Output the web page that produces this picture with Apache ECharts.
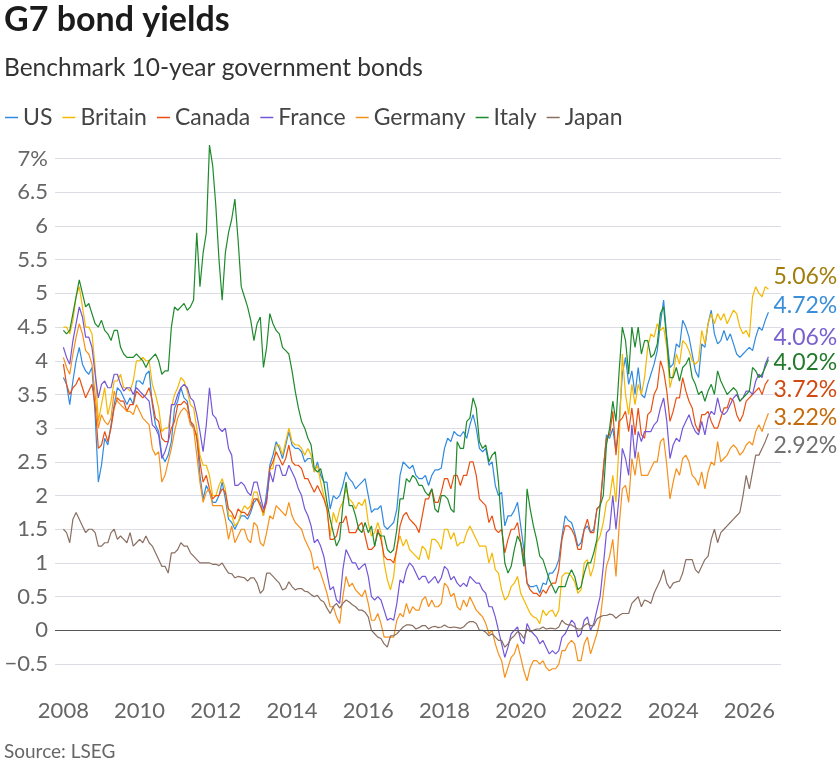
<!DOCTYPE html>
<html>
<head>
<meta charset="utf-8">
<title>G7 bond yields</title>
<script src="https://cdn.jsdelivr.net/npm/echarts@6/dist/echarts.min.js"></script>
<style>
  html, body { margin: 0; padding: 0; background: #fff; }
  #chart { width: 840px; height: 761px; }
</style>
</head>
<body>
<div id="chart"></div>
<script>
// monthly readings, Jan 2008 .. Jul 2026
var us = [
  3.75, 3.65, 3.35, 3.7, 4.0, 4.2, 3.95, 3.85, 3.8, 3.9, 3.2, 2.2,
  2.45, 2.85, 2.75, 3.05, 3.35, 3.6, 3.55, 3.45, 3.35, 3.45, 3.35, 3.7,
  3.7, 3.65, 3.8, 3.85, 3.35, 3.05, 2.95, 2.6, 2.5, 2.6, 2.8, 3.3,
  3.4, 3.6, 3.45, 3.4, 3.1, 3.0, 2.9, 2.3, 1.95, 2.15, 2.05, 1.9,
  1.9, 2.0, 2.2, 1.95, 1.65, 1.6, 1.5, 1.6, 1.7, 1.7, 1.65, 1.75,
  1.9, 1.95, 1.9, 1.7, 2.05, 2.45, 2.6, 2.8, 2.7, 2.55, 2.75, 2.95,
  2.75, 2.7, 2.7, 2.65, 2.5, 2.55, 2.55, 2.35, 2.5, 2.3, 2.2, 2.2,
  1.8, 2.0, 1.95, 2.0, 2.15, 2.35, 2.25, 2.2, 2.1, 2.15, 2.2, 2.25,
  2.0, 1.75, 1.8, 1.8, 1.85, 1.55, 1.5, 1.55, 1.6, 1.8, 2.3, 2.5,
  2.45, 2.4, 2.45, 2.3, 2.25, 2.25, 2.3, 2.15, 2.3, 2.38, 2.38, 2.41,
  2.7, 2.85, 2.8, 2.95, 2.9, 2.88, 2.95, 2.85, 3.05, 3.2, 3.0, 2.7,
  2.65, 2.7, 2.45, 2.5, 2.15, 2.0, 2.05, 1.55, 1.7, 1.7, 1.78, 1.9,
  1.55, 1.2, 0.7, 0.65, 0.65, 0.67, 0.55, 0.7, 0.68, 0.85, 0.85, 0.92,
  1.05, 1.4, 1.7, 1.63, 1.6, 1.45, 1.25, 1.3, 1.5, 1.55, 1.45, 1.5,
  1.8, 1.85, 2.35, 2.9, 2.85, 3.0, 2.65, 3.1, 3.8, 4.05, 3.65, 3.85,
  3.5, 3.9, 3.5, 3.45, 3.65, 3.8, 3.95, 4.15, 4.55, 4.9, 4.35, 3.9,
  3.95, 4.25, 4.2, 4.6, 4.5, 4.35, 4.1, 3.85, 3.75, 4.25, 4.2, 4.55,
  4.75, 4.4, 4.25, 4.3, 4.45, 4.3, 4.4, 4.25, 4.1, 4.05, 4.1, 4.15,
  4.2, 4.15, 4.35, 4.5, 4.45, 4.6, 4.72
];
var britain = [
  4.5, 4.5, 4.4, 4.6, 4.95, 5.1, 4.8, 4.5, 4.5, 4.4, 3.9, 3.1,
  3.35, 3.6, 3.2, 3.4, 3.7, 3.7, 3.8, 3.6, 3.6, 3.55, 3.7, 4.0,
  4.0, 4.05, 4.0, 4.0, 3.65, 3.5, 3.3, 2.95, 3.0, 3.0, 3.3, 3.5,
  3.6, 3.75, 3.7, 3.55, 3.35, 3.3, 3.0, 2.6, 2.45, 2.45, 2.3, 2.0,
  2.0, 2.15, 2.25, 2.1, 1.7, 1.7, 1.55, 1.6, 1.75, 1.85, 1.8, 1.85,
  2.05, 2.05, 1.85, 1.7, 1.95, 2.4, 2.4, 2.75, 2.75, 2.6, 2.8, 3.0,
  2.8, 2.75, 2.75, 2.7, 2.6, 2.7, 2.6, 2.35, 2.45, 2.2, 2.0, 1.8,
  1.4, 1.75, 1.6, 1.8, 1.9, 2.1, 1.95, 1.9, 1.8, 1.9, 1.85, 1.95,
  1.6, 1.4, 1.45, 1.6, 1.45, 1.0, 0.75, 0.6, 0.8, 1.25, 1.4, 1.25,
  1.35, 1.2, 1.15, 1.1, 1.05, 1.25, 1.2, 1.05, 1.35, 1.35, 1.3, 1.2,
  1.5, 1.5, 1.35, 1.45, 1.25, 1.3, 1.3, 1.45, 1.55, 1.45, 1.35, 1.25,
  1.25, 1.25, 1.0, 1.15, 0.9, 0.85, 0.6, 0.45, 0.5, 0.65, 0.7, 0.8,
  0.55, 0.45, 0.35, 0.25, 0.2, 0.18, 0.1, 0.3, 0.22, 0.28, 0.3, 0.2,
  0.3, 0.8, 0.85, 0.85, 0.8, 0.72, 0.55, 0.6, 1.0, 1.05, 0.8, 0.95,
  1.3, 1.4, 1.6, 1.9, 1.95, 2.3, 1.9, 2.8, 4.1, 3.5, 3.2, 3.65,
  3.35, 3.65, 3.5, 3.75, 4.2, 4.4, 4.35, 4.55, 4.45, 4.5, 4.2, 3.6,
  3.8, 4.1, 3.95, 4.3, 4.25, 4.15, 4.0, 3.95, 4.0, 4.45, 4.25, 4.55,
  4.7, 4.55, 4.7, 4.6, 4.7, 4.55, 4.65, 4.75, 4.7, 4.5, 4.4, 4.45,
  4.35, 4.95, 5.1, 5.0, 4.95, 5.1, 5.06
];
var canada = [
  3.95, 3.65, 3.5, 3.6, 3.65, 3.75, 3.6, 3.45, 3.55, 3.65, 3.35, 2.7,
  2.75, 2.95, 2.8, 3.0, 3.3, 3.45, 3.4, 3.4, 3.25, 3.35, 3.35, 3.55,
  3.5, 3.45, 3.5, 3.6, 3.4, 3.15, 3.1, 2.85, 2.8, 2.8, 3.0, 3.1,
  3.35, 3.35, 3.4, 3.35, 3.1, 3.05, 2.85, 2.5, 2.2, 2.3, 2.1, 1.95,
  2.0, 2.0, 2.1, 2.05, 1.8, 1.75, 1.65, 1.8, 1.75, 1.75, 1.7, 1.8,
  1.95, 1.95, 1.85, 1.75, 1.9, 2.4, 2.5, 2.65, 2.55, 2.45, 2.55, 2.75,
  2.5, 2.45, 2.45, 2.4, 2.25, 2.25, 2.15, 2.05, 2.15, 2.05, 1.95, 1.8,
  1.35, 1.35, 1.4, 1.6, 1.6, 1.7, 1.45, 1.45, 1.45, 1.55, 1.6, 1.4,
  1.2, 1.2, 1.25, 1.5, 1.35, 1.1, 1.05, 1.05, 1.0, 1.2, 1.55, 1.7,
  1.75, 1.65, 1.6, 1.55, 1.45, 1.7, 1.95, 1.95, 2.1, 1.9, 1.9, 2.05,
  2.25, 2.25, 2.1, 2.3, 2.3, 2.15, 2.3, 2.3, 2.5, 2.5, 2.3, 1.95,
  1.9, 1.85, 1.6, 1.7, 1.5, 1.45, 1.5, 1.15, 1.35, 1.5, 1.5, 1.6,
  1.3, 1.1, 0.7, 0.6, 0.55, 0.55, 0.5, 0.6, 0.55, 0.65, 0.7, 0.7,
  0.9, 1.35, 1.55, 1.55, 1.5, 1.4, 1.2, 1.2, 1.5, 1.65, 1.45, 1.45,
  1.8, 1.85, 2.4, 2.85, 2.9, 3.25, 2.6, 3.1, 3.15, 3.25, 2.95, 3.3,
  2.9, 3.3, 2.9, 2.85, 3.2, 3.25, 3.5, 3.6, 4.0, 3.85, 3.55, 3.1,
  3.25, 3.45, 3.45, 3.75, 3.55, 3.4, 3.3, 3.05, 2.95, 3.2, 3.2, 3.25,
  3.1, 3.0, 3.0, 3.15, 3.3, 3.3, 3.45, 3.4, 3.2, 3.1, 3.2, 3.4,
  3.45, 3.5, 3.55, 3.6, 3.5, 3.65, 3.72
];
var france = [
  4.2, 4.05, 3.95, 4.3, 4.55, 4.8, 4.65, 4.35, 4.35, 4.2, 3.8, 3.45,
  3.65, 3.7, 3.6, 3.6, 3.8, 3.8, 3.65, 3.55, 3.6, 3.6, 3.5, 3.6,
  3.55, 3.5, 3.45, 3.4, 3.05, 3.0, 2.9, 2.55, 2.65, 2.8, 3.35, 3.35,
  3.5, 3.6, 3.65, 3.6, 3.45, 3.4, 3.2, 2.95, 2.65, 3.05, 3.6, 3.2,
  3.15, 3.0, 2.95, 3.0, 2.7, 2.6, 2.15, 2.15, 2.2, 2.15, 2.05, 2.0,
  2.2, 2.2, 2.0, 1.8, 1.95, 2.35, 2.2, 2.45, 2.45, 2.3, 2.3, 2.45,
  2.35, 2.25, 2.1, 2.0, 1.8, 1.7, 1.55, 1.3, 1.35, 1.25, 1.1, 0.85,
  0.6, 0.65, 0.45, 0.4, 0.9, 1.2, 1.1, 1.0, 1.0, 0.9, 0.95, 0.99,
  0.8, 0.5, 0.45, 0.5, 0.45, 0.3, 0.15, 0.18, 0.15, 0.4, 0.75, 0.7,
  0.9, 1.0, 0.95, 0.85, 0.75, 0.8, 0.8, 0.7, 0.75, 0.8, 0.7, 0.78,
  0.95, 0.9, 0.75, 0.8, 0.7, 0.65, 0.7, 0.65, 0.8, 0.75, 0.7, 0.7,
  0.6, 0.55, 0.35, 0.35, 0.2, 0.0, -0.2, -0.4, -0.25, -0.05, 0.0, 0.05,
  -0.15, -0.2, 0.1, 0.0, -0.05, -0.1, -0.2, -0.15, -0.25, -0.35, -0.3, -0.35,
  -0.3, -0.1, -0.05, 0.05, 0.15, 0.1, -0.1, -0.05, 0.15, 0.2, 0.0, 0.1,
  0.3, 0.5, 0.95, 1.45, 1.5, 2.0, 1.5, 2.0, 2.7, 2.55, 2.3, 3.05,
  2.55, 2.95, 2.8, 2.95, 2.95, 2.95, 3.05, 3.1, 3.3, 3.45, 3.1, 2.55,
  2.75, 2.85, 2.8, 3.0, 3.1, 3.2, 3.05, 2.95, 2.9, 3.1, 2.9, 3.15,
  3.25, 3.2, 3.45, 3.25, 3.2, 3.25, 3.35, 3.45, 3.5, 3.4, 3.45, 3.55,
  3.55, 3.5, 3.7, 3.8, 3.75, 3.95, 4.06
];
var germany = [
  4.05, 3.9, 3.8, 4.1, 4.35, 4.55, 4.4, 4.15, 4.1, 3.95, 3.5, 3.0,
  3.2, 3.1, 3.05, 3.15, 3.55, 3.4, 3.35, 3.3, 3.25, 3.25, 3.2, 3.35,
  3.25, 3.15, 3.1, 3.05, 2.7, 2.6, 2.65, 2.2, 2.3, 2.5, 2.7, 2.95,
  3.15, 3.25, 3.3, 3.25, 3.05, 3.0, 2.6, 2.2, 1.9, 2.05, 2.1, 1.85,
  1.85, 1.85, 1.85, 1.65, 1.35, 1.55, 1.3, 1.4, 1.5, 1.5, 1.35, 1.3,
  1.6, 1.55, 1.3, 1.25, 1.45, 1.7, 1.65, 1.85, 1.8, 1.75, 1.7, 1.9,
  1.7, 1.6, 1.55, 1.5, 1.35, 1.25, 1.15, 0.9, 0.95, 0.85, 0.7, 0.55,
  0.35, 0.35, 0.2, 0.1, 0.5, 0.8, 0.65, 0.7, 0.6, 0.55, 0.5, 0.6,
  0.4, 0.15, 0.15, 0.25, 0.1, -0.1, -0.1, -0.1, -0.1, 0.15, 0.25, 0.2,
  0.4, 0.25, 0.35, 0.3, 0.3, 0.45, 0.5, 0.35, 0.45, 0.35, 0.35, 0.4,
  0.7, 0.65, 0.5, 0.55, 0.35, 0.3, 0.45, 0.35, 0.5, 0.4, 0.3, 0.25,
  0.2, 0.1, -0.05, 0.0, -0.2, -0.35, -0.45, -0.7, -0.55, -0.4, -0.35, -0.2,
  -0.4, -0.6, -0.75, -0.55, -0.45, -0.45, -0.5, -0.45, -0.55, -0.6, -0.57, -0.57,
  -0.5, -0.3, -0.3, -0.2, -0.15, -0.2, -0.45, -0.45, -0.2, -0.1, -0.35, -0.2,
  -0.05, 0.15, 0.55, 0.95, 1.1, 1.35, 0.8, 1.55, 2.1, 2.15, 1.9, 2.55,
  2.3, 2.65, 2.3, 2.3, 2.3, 2.4, 2.5, 2.5, 2.8, 2.85, 2.45, 1.95,
  2.2, 2.4, 2.3, 2.55, 2.6, 2.5, 2.3, 2.25, 2.15, 2.35, 2.1, 2.35,
  2.5, 2.45, 2.8, 2.5, 2.55, 2.6, 2.7, 2.75, 2.7, 2.6, 2.65, 2.75,
  2.8, 2.75, 2.95, 3.05, 2.95, 3.1, 3.22
];
var italy = [
  4.45, 4.4, 4.45, 4.7, 4.95, 5.2, 5.0, 4.8, 4.85, 4.7, 4.55, 4.5,
  4.6, 4.45, 4.4, 4.3, 4.45, 4.45, 4.2, 4.1, 4.05, 4.05, 4.05, 4.1,
  4.05, 4.0, 3.9, 4.0, 4.05, 4.1, 4.0, 3.8, 3.85, 3.85, 4.5, 4.8,
  4.75, 4.8, 4.85, 4.75, 4.8, 4.9, 5.9, 5.1, 5.6, 5.9, 7.2, 6.9,
  6.3, 5.5, 4.9, 5.6, 5.9, 6.1, 6.4, 5.8, 5.1, 4.95, 4.8, 4.6,
  4.3, 4.55, 4.65, 3.9, 4.2, 4.7, 4.55, 4.45, 4.4, 4.2, 4.15, 4.1,
  3.85, 3.55, 3.3, 3.1, 3.0, 2.85, 2.75, 2.4, 2.35, 2.4, 2.2, 1.9,
  1.65, 1.45, 1.25, 1.35, 1.85, 2.2, 1.85, 1.85, 1.7, 1.5, 1.45, 1.6,
  1.45, 1.55, 1.25, 1.45, 1.4, 1.4, 1.2, 1.15, 1.2, 1.5, 1.95, 1.95,
  2.25, 2.2, 2.3, 2.25, 2.15, 2.15, 2.05, 2.0, 2.1, 1.8, 1.75, 2.0,
  2.0, 1.95, 1.8, 1.75, 2.8, 2.7, 2.7, 3.1, 3.15, 3.45, 3.3, 2.8,
  2.7, 2.75, 2.5, 2.6, 2.65, 2.2, 1.55, 1.0, 0.85, 0.95, 1.2, 1.4,
  1.3, 0.95, 2.1, 1.8, 1.55, 1.35, 1.1, 1.05, 0.9, 0.75, 0.65, 0.55,
  0.65, 0.65, 0.65, 0.8, 0.9, 0.8, 0.6, 0.65, 0.85, 1.0, 1.0, 1.15,
  1.35, 1.85, 2.0, 2.75, 3.0, 3.4, 3.1, 3.85, 4.5, 4.3, 3.8, 4.5,
  4.2, 4.5, 4.1, 4.3, 4.3, 4.05, 4.1, 4.25, 4.7, 4.8, 4.3, 3.75,
  3.75, 3.9, 3.7, 3.9, 3.95, 4.05, 3.75, 3.65, 3.5, 3.55, 3.4, 3.55,
  3.65, 3.5, 3.85, 3.7, 3.6, 3.5, 3.55, 3.6, 3.55, 3.4, 3.45, 3.5,
  3.55, 3.9, 3.85, 3.75, 3.8, 3.9, 4.02
];
var japan = [
  1.5, 1.45, 1.3, 1.65, 1.75, 1.65, 1.55, 1.45, 1.5, 1.5, 1.45, 1.25,
  1.25, 1.3, 1.3, 1.45, 1.5, 1.35, 1.4, 1.35, 1.3, 1.45, 1.25, 1.3,
  1.35, 1.3, 1.4, 1.3, 1.25, 1.15, 1.05, 0.95, 0.95, 0.85, 1.15, 1.15,
  1.2, 1.3, 1.25, 1.25, 1.15, 1.1, 1.05, 1.0, 1.0, 1.0, 1.0, 0.98,
  0.98, 0.96, 1.0, 0.92, 0.85, 0.84, 0.78, 0.8, 0.79, 0.78, 0.73, 0.78,
  0.78, 0.7, 0.55, 0.6, 0.85, 0.85, 0.8, 0.75, 0.7, 0.6, 0.62, 0.72,
  0.65, 0.6, 0.62, 0.62, 0.58, 0.57, 0.53, 0.5, 0.52, 0.45, 0.42, 0.33,
  0.25, 0.35, 0.4, 0.33, 0.4, 0.45, 0.42, 0.38, 0.35, 0.3, 0.3, 0.27,
  0.2, 0.0, -0.05, -0.1, -0.12, -0.2, -0.25, -0.08, -0.08, -0.05, 0.0, 0.05,
  0.08, 0.08, 0.07, 0.02, 0.04, 0.07, 0.07, 0.02, 0.05, 0.06, 0.04, 0.05,
  0.08, 0.05, 0.04, 0.05, 0.04, 0.03, 0.05, 0.1, 0.13, 0.13, 0.1, 0.0,
  0.0, -0.03, -0.08, -0.05, -0.1, -0.15, -0.15, -0.25, -0.2, -0.12, -0.08, -0.02,
  -0.05, -0.12, 0.02, -0.02, 0.0, 0.02, 0.02, 0.05, 0.02, 0.03, 0.03, 0.02,
  0.05, 0.15, 0.1, 0.08, 0.08, 0.05, 0.02, 0.02, 0.07, 0.1, 0.07, 0.07,
  0.17, 0.2, 0.22, 0.22, 0.24, 0.23, 0.18, 0.22, 0.25, 0.25, 0.25, 0.4,
  0.45, 0.5, 0.35, 0.45, 0.43, 0.4, 0.55, 0.65, 0.75, 0.9, 0.7, 0.62,
  0.7, 0.72, 0.73, 0.85, 1.05, 1.05, 1.05, 0.9, 0.85, 0.95, 1.05, 1.1,
  1.35, 1.5, 1.3, 1.45, 1.5, 1.55, 1.6, 1.65, 1.7, 1.75, 2.0, 2.3,
  2.1, 2.35, 2.6, 2.6, 2.7, 2.8, 2.92
];

var yearTicks = [2008, 2010, 2012, 2014, 2016, 2018, 2020, 2022, 2024, 2026];

// month stamps as decimal years
var dates = [];
for (var i = 0; i < us.length; i++) {
  dates.push(2008 + i / 12);
}

var FONT = 'Lato';

var seriesList = [
  { name: 'US', values: us, color: '#2f8ae0', labelColor: '#3a8fd8', dy: -7 },
  { name: 'Britain', values: britain, color: '#f5b800', labelColor: '#a27d0c', dy: -13 },
  { name: 'Canada', values: canada, color: '#ea4f10', labelColor: '#d04a12', dy: 10 },
  { name: 'France', values: france, color: '#7456d8', labelColor: '#7a5fcf', dy: -19 },
  { name: 'Germany', values: germany, color: '#f7901a', labelColor: '#c46a0a', dy: 4 },
  { name: 'Italy', values: italy, color: '#1e8a2c', labelColor: '#237a2a', dy: 3 },
  { name: 'Japan', values: japan, color: '#8a6f62', labelColor: '#707070', dy: 12 }
];

function pairs(values) {
  return values.map(function(v, i) { return [dates[i], v]; });
}

var series = seriesList.map(function(s, idx) {
  var item = {
    name: s.name,
    type: 'line',
    showSymbol: false,
    symbol: 'none',
    color: s.color,
    lineStyle: { width: 1.2, color: s.color },
    data: pairs(s.values),
    endLabel: {
      show: true,
      distance: 5,
      offset: [0, s.dy],
      fontFamily: FONT,
      fontSize: 23,
      color: s.labelColor,
      formatter: function(p) { return p.value[1].toFixed(2) + '%'; }
    },
    emphasis: { disabled: true }
  };
  if (idx === 0) {
    // dark zero line
    item.markLine = {
      silent: true,
      symbol: 'none',
      label: { show: false },
      lineStyle: { color: '#555', width: 1.2, type: 'solid' },
      data: [{ yAxis: 0 }]
    };
  }
  return item;
});

var myChart = echarts.init(document.getElementById('chart'), null, { renderer: 'canvas' });

var option = {
  animation: false,
  backgroundColor: '#fff',
  textStyle: { fontFamily: FONT },
  title: [
    {
      text: 'G7 bond yields',
      left: -1,
      top: -2,
      textStyle: { fontFamily: FONT, fontSize: 34, fontWeight: 'bold', color: '#1b1b1b' }
    },
    {
      text: 'Benchmark 10-year government bonds',
      left: -1,
      top: 51,
      textStyle: { fontFamily: FONT, fontSize: 24.5, fontWeight: 'normal', color: '#333' }
    },
    {
      text: 'Source: LSEG',
      left: -1,
      top: 737,
      textStyle: { fontFamily: FONT, fontSize: 19, fontWeight: 'normal', color: '#666' }
    }
  ],
  legend: {
    left: 0,
    top: 101,
    icon: 'rect',
    itemWidth: 13,
    itemHeight: 1.5,
    itemGap: 10,
    textStyle: { fontFamily: FONT, fontSize: 23, color: '#444' },
    data: seriesList.map(function(s) { return s.name; })
  },
  grid: { left: 55, right: 59, top: 135, bottom: 70 },
  xAxis: {
    type: 'value',
    min: 2007.78,
    max: 2026.83,
    axisLine: { show: false },
    axisTick: { show: false },
    splitLine: { show: false },
    axisLabel: {
      customValues: yearTicks,
      margin: 9,
      fontFamily: FONT,
      fontSize: 22,
      color: '#666',
      formatter: function(v) { return String(Math.round(v)); }
    }
  },
  yAxis: {
    type: 'value',
    min: -0.9,
    max: 7.35,
    minInterval: 0.5,
    maxInterval: 0.5,
    axisLine: { show: false },
    axisTick: { show: false },
    splitLine: {
      show: true,
      showMinLine: false,
      showMaxLine: false,
      lineStyle: { color: '#dcdde4', width: 1 }
    },
    axisLabel: {
      showMinLabel: false,
      showMaxLabel: false,
      margin: 7,
      fontFamily: FONT,
      fontSize: 22,
      color: '#666',
      formatter: function(v) {
        if (v === 7) return '7%';
        if (v < 0) return '\u2212' + Math.abs(v);
        return String(v);
      }
    }
  },
  series: series
};

myChart.setOption(option);
</script>
</body>
</html>
